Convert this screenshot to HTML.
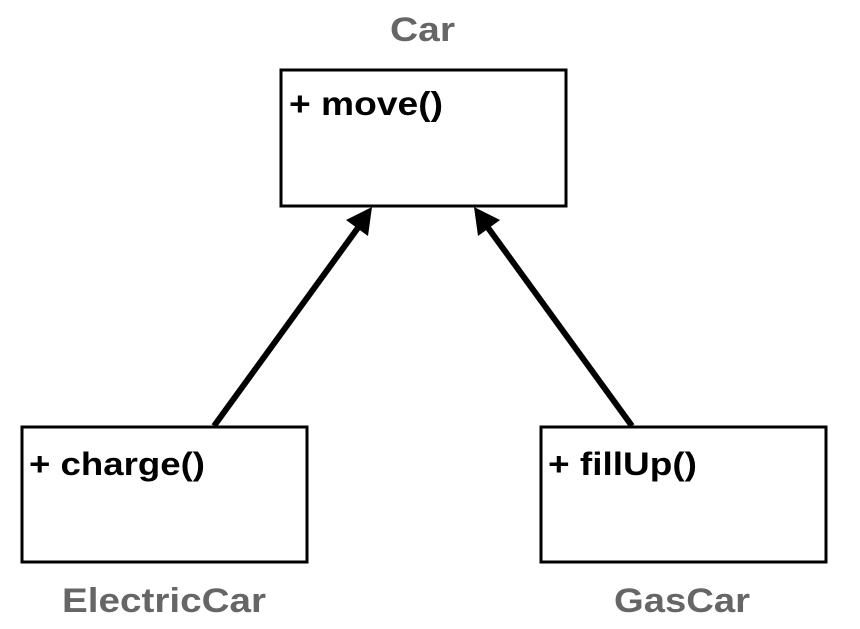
<!DOCTYPE html>
<html><head><meta charset="utf-8"><style>
body{margin:0;width:860px;height:624px;background:#fff;overflow:hidden}
</style></head><body>
<svg width="860" height="624" xmlns="http://www.w3.org/2000/svg" font-family="Liberation Sans, Arial, sans-serif" font-weight="bold">
<text x="390" y="41" font-size="34" fill="#666" textLength="65" lengthAdjust="spacingAndGlyphs">Car</text>
<rect x="281" y="70" width="285" height="136" fill="#fff" stroke="#000" stroke-width="3"/>
<text x="289" y="115" font-size="33" fill="#000" textLength="154" lengthAdjust="spacingAndGlyphs">+ move()</text>
<rect x="22" y="427" width="285" height="135" fill="#fff" stroke="#000" stroke-width="3"/>
<text x="29" y="475" font-size="32" fill="#000" textLength="176" lengthAdjust="spacingAndGlyphs">+ charge()</text>
<rect x="541" y="427" width="285" height="135" fill="#fff" stroke="#000" stroke-width="3"/>
<text x="548" y="475" font-size="32" fill="#000" textLength="149" lengthAdjust="spacingAndGlyphs">+ fillUp()</text>
<text x="62" y="612" font-size="34" fill="#666" textLength="204" lengthAdjust="spacingAndGlyphs">ElectricCar</text>
<text x="614" y="612" font-size="34" fill="#666" textLength="136" lengthAdjust="spacingAndGlyphs">GasCar</text>
<line x1="214" y1="426" x2="360" y2="225" stroke="#000" stroke-width="6"/>
<polygon points="372,207 368,236 346,220" fill="#000"/>
<line x1="632" y1="426" x2="486" y2="225" stroke="#000" stroke-width="6"/>
<polygon points="474,207 500,220 478,236" fill="#000"/>
</svg>
</body></html>
